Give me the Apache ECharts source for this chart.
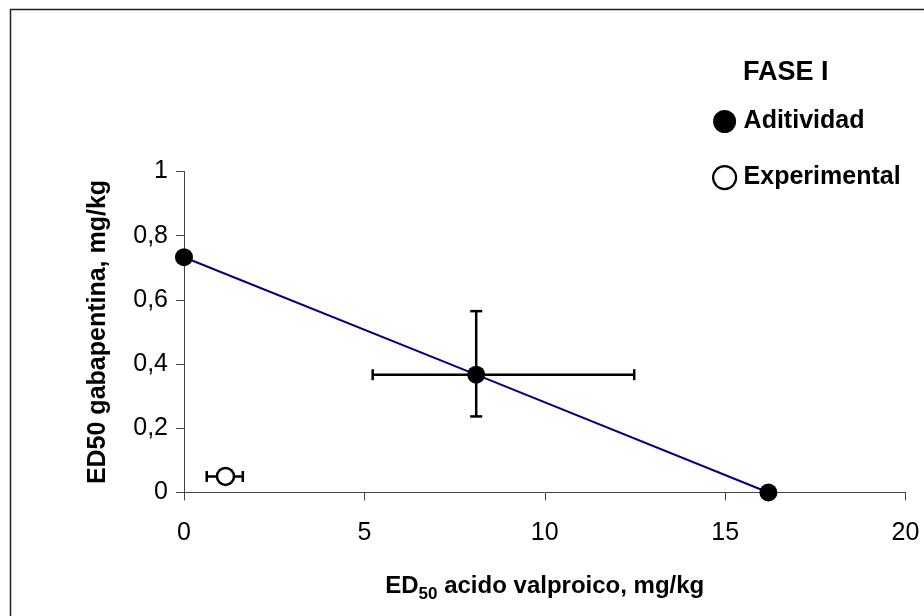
<!DOCTYPE html>
<html>
<head>
<meta charset="utf-8">
<script src="https://cdn.jsdelivr.net/npm/echarts@6/dist/echarts.min.js"></script>
<style>
html,body{margin:0;padding:0;background:#fff;}
#chart{width:924px;height:616px;}
</style>
</head>
<body>
<div id="chart"></div>
<script>
// Data
var additivityPoints = [[0, 0.733], [8.1, 0.367], [16.2, 0]];
var experimentalPoints = [[1.15, 0.05]];
// error bars: [x, y, xLow, xHigh, yLow, yHigh]
var additivityErrors = [[8.1, 0.367, 5.23, 12.48, 0.237, 0.565]];
var experimentalErrors = [[1.15, 0.05, 0.63, 1.63, null, null]];
var xTicks = [0, 5, 10, 15, 20];
var yTicks = [0, 0.2, 0.4, 0.6, 0.8, 1];

var FONT = "'Liberation Sans', Arial, sans-serif";
var chart = echarts.init(document.getElementById('chart'), null, {renderer: 'canvas'});

function errorBarRender(params, api) {
  var x = api.value(0), y = api.value(1);
  var xl = api.value(2), xh = api.value(3), yl = api.value(4), yh = api.value(5);
  var children = [];
  var style = {stroke: '#000', lineWidth: 2.5};
  var cap = 5.5;
  if (xl != null && !isNaN(xl)) {
    var p1 = api.coord([xl, y]), p2 = api.coord([xh, y]);
    children.push({type: 'line', shape: {x1: p1[0], y1: p1[1], x2: p2[0], y2: p2[1]}, style: style});
    children.push({type: 'line', shape: {x1: p1[0], y1: p1[1] - cap, x2: p1[0], y2: p1[1] + cap}, style: style});
    children.push({type: 'line', shape: {x1: p2[0], y1: p2[1] - cap, x2: p2[0], y2: p2[1] + cap}, style: style});
  }
  if (yl != null && !isNaN(yl)) {
    var q1 = api.coord([x, yl]), q2 = api.coord([x, yh]);
    children.push({type: 'line', shape: {x1: q1[0], y1: q1[1], x2: q2[0], y2: q2[1]}, style: style});
    children.push({type: 'line', shape: {x1: q1[0] - 6, y1: q1[1], x2: q1[0] + 6, y2: q1[1]}, style: style});
    children.push({type: 'line', shape: {x1: q2[0] - 6, y1: q2[1], x2: q2[0] + 6, y2: q2[1]}, style: style});
  }
  return {type: 'group', children: children};
}

var option = {
  animation: false,
  backgroundColor: '#fff',
  textStyle: {fontFamily: FONT},
  graphic: [
    {type: 'rect', shape: {x: 10.5, y: 9.5, width: 1000, height: 1000},
     style: {fill: 'none', stroke: '#222', lineWidth: 1.5}, z: -10, silent: true},
    {type: 'text', left: 743, top: 59,
     style: {text: 'FASE I', font: 'bold 27px ' + FONT, fill: '#000'}}
  ],
  legend: {
    orient: 'vertical',
    left: 707,
    top: 104,
    itemWidth: 28,
    itemHeight: 23,
    itemGap: 31,
    icon: 'circle',
    textStyle: {fontFamily: FONT, fontWeight: 'bold', fontSize: 25, color: '#000'},
    data: [
      {name: 'Aditividad', itemStyle: {color: '#000'}},
      {name: 'Experimental', itemStyle: {color: '#fff', borderColor: '#000', borderWidth: 2.2}}
    ]
  },
  grid: {left: 184, right: 18.5, top: 171.5, bottom: 123.5, containLabel: false},
  xAxis: {
    type: 'value', min: 0, max: 20, interval: 5,
    axisLine: {show: true, lineStyle: {color: '#444', width: 1}},
    axisTick: {show: true, inside: false, length: 8, lineStyle: {color: '#444'}},
    splitLine: {show: false},
    axisLabel: {fontFamily: FONT, fontSize: 25, color: '#000', margin: 28},
    name: '{a|ED}{b|50}{a| acido valproico, mg/kg}',
    nameLocation: 'middle',
    nameGap: 78,
    nameTextStyle: {
      rich: {
        a: {fontFamily: FONT, fontWeight: 'bold', fontSize: 24, color: '#000', lineHeight: 32, verticalAlign: 'middle'},
        b: {fontFamily: FONT, fontWeight: 'bold', fontSize: 17, color: '#000', lineHeight: 16, verticalAlign: 'bottom'}
      }
    }
  },
  yAxis: {
    type: 'value', min: 0, max: 1, interval: 0.2,
    axisLine: {show: true, lineStyle: {color: '#444', width: 1}},
    axisTick: {show: true, inside: false, length: 8, lineStyle: {color: '#444'}},
    splitLine: {show: false},
    axisLabel: {fontFamily: FONT, fontSize: 25, color: '#000', margin: 16,
      formatter: function (v) { return String(Math.round(v * 10) / 10).replace('.', ','); }},
    name: 'ED50 gabapentina, mg/kg',
    nameLocation: 'middle',
    nameRotate: 90,
    nameGap: 73,
    nameTextStyle: {fontFamily: FONT, fontWeight: 'bold', fontSize: 25, color: '#000'}
  },
  series: [
    {
      name: 'Aditividad',
      type: 'line',
      data: additivityPoints,
      symbol: 'circle',
      symbolSize: 18,
      itemStyle: {color: '#000'},
      lineStyle: {color: '#000080', width: 2},
      z: 3
    },
    {
      name: 'errAdd',
      type: 'custom',
      data: additivityErrors,
      renderItem: errorBarRender,
      z: 2
    },
    {
      name: 'errExp',
      type: 'custom',
      data: experimentalErrors,
      renderItem: errorBarRender,
      z: 2
    },
    {
      name: 'Experimental',
      type: 'scatter',
      data: experimentalPoints,
      symbol: 'circle',
      symbolSize: 17,
      itemStyle: {color: '#fff', borderColor: '#000', borderWidth: 2.5, opacity: 1},
      z: 4
    }
  ]
};
chart.setOption(option);
</script>
</body>
</html>
